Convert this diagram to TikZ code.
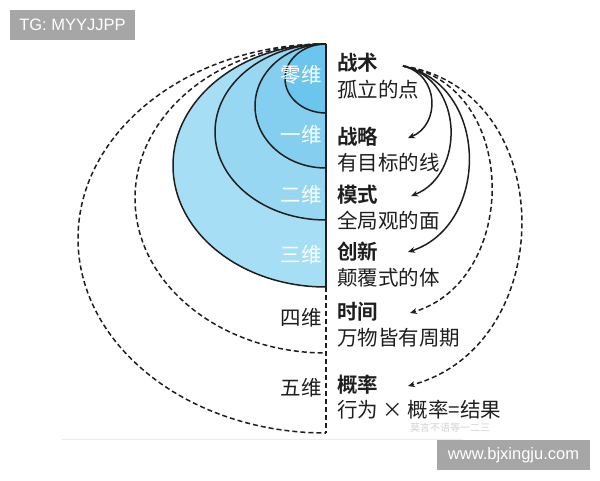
\documentclass[tikz,border=0pt]{standalone}
\usepackage{fontspec}
\setmainfont{Liberation Sans}
\newfontfamily\cjk{Noto Sans CJK SC}
\newfontfamily\cjkb{Noto Sans CJK SC Bold}
\usetikzlibrary{arrows.meta}
\definecolor{zeroc}{HTML}{6BC5EC}
\definecolor{onec}{HTML}{84CFEF}
\definecolor{twoc}{HTML}{97D7F2}
\definecolor{threec}{HTML}{A6DEF5}
\definecolor{inkc}{HTML}{1E1E1E}
\definecolor{wmgray}{HTML}{A6A6A6}
\tikzset{
  dimlab/.style={anchor=east,inner sep=0pt,text=white,font=\cjk\fontsize{20.5}{22}\selectfont},
  dimlabk/.style={anchor=east,inner sep=0pt,text=inkc,font=\cjk\fontsize{20.5}{22}\selectfont},
  ttl/.style={anchor=west,inner sep=0pt,text=inkc,font=\cjkb\fontsize{20.5}{22}\selectfont},
  sub/.style={anchor=west,inner sep=0pt,text=inkc,font=\cjk\fontsize{20.5}{22}\selectfont},
  solidring/.style={draw=inkc,line width=1.5pt},
  dashring/.style={draw=inkc,line width=1.5pt,dash pattern=on 5pt off 3pt},
  arr/.style={draw=inkc,line width=1.5pt,-{Stealth[length=7pt,width=6pt]}},
  darr/.style={arr,dash pattern=on 5pt off 3pt},
  wmbox/.style={fill=wmgray,text=white,inner sep=0pt,font=\fontsize{16.5}{18}\selectfont}
}
\begin{document}
\begin{tikzpicture}[x=1pt,y=-1pt]
\useasboundingbox (0,0) rectangle (600,480);
\fill[white] (0,0) rectangle (600,480);
% faint frame line
\draw[draw={rgb,255:red,236;green,236;blue,236},line width=1pt] (62,439) -- (463,439);
% fills
\fill[threec] (326,44) arc[start angle=-90,end angle=-270,x radius=153,y radius=121.5] -- cycle;
\fill[twoc] (326,44) arc[start angle=-90,end angle=-270,x radius=111,y radius=88] -- cycle;
\fill[onec] (326,44) arc[start angle=-90,end angle=-270,x radius=71,y radius=62] -- cycle;
\fill[zeroc] (326,44) arc[start angle=-90,end angle=-270,x radius=41,y radius=34.5] -- cycle;
% outlines
\draw[solidring] (326,44) arc[start angle=-90,end angle=-270,x radius=153,y radius=121.5];
\draw[solidring] (326,44) arc[start angle=-90,end angle=-270,x radius=111,y radius=88];
\draw[solidring] (326,44) arc[start angle=-90,end angle=-270,x radius=71,y radius=62];
\draw[solidring] (326,44) arc[start angle=-90,end angle=-270,x radius=41,y radius=34.5];
\draw[dashring] (326,44) arc[start angle=-90,end angle=-270,x radius=191,y radius=154.5];
\draw[dashring] (326,44) arc[start angle=-90,end angle=-270,x radius=248,y radius=194.5];
\coordinate (axtop) at (326,44);
\coordinate (axmid) at (326,287);
\coordinate (axbot) at (326,433);
\draw[solidring] (axtop) -- (axmid);
\draw[dashring] (axmid) -- (axbot);
% left labels
\node[dimlab] (d0) at (322,75) {零维};
\node[dimlab] (d1) at (322,135) {一维};
\node[dimlab] (d2) at (322,195) {二维};
\node[dimlab] (d3) at (322,255) {三维};
\node[dimlabk] (d4) at (322,318) {四维};
\node[dimlabk] (d5) at (322,388) {五维};
% right texts
\node[ttl] (t0) at (337,63) {战术};
\node[sub] (s0) at (337,90) {孤立的点};
\node[ttl] (t1) at (337,137) {战略};
\node[sub] (s1) at (337,163) {有目标的线};
\node[ttl] (t2) at (337,195) {模式};
\node[sub] (s2) at (337,221) {全局观的面};
\node[ttl] (t3) at (337,252) {创新};
\node[sub] (s3) at (337,278) {颠覆式的体};
\node[ttl] (t4) at (337,312) {时间};
\node[sub] (s4) at (337,338) {万物皆有周期};
\node[ttl] (t5) at (337,385) {概率};
\node[sub] (s5) at (337,410) {行为 × 概率=结果};
% arrows
\coordinate (src) at (403,66);
\coordinate (e1) at (408,138);
\coordinate (e2) at (411,196);
\coordinate (e3) at (408,252);
\coordinate (e4) at (410,313);
\coordinate (e5) at (408,386);
\draw[arr] (src) .. controls (440,75) and (440,125) .. (e1);
\draw[arr] (src) .. controls (465,80) and (465,175) .. (e2);
\draw[arr] (src) .. controls (490,85) and (490,225) .. (e3);
\draw[darr] (src) .. controls (520,85) and (520,280) .. (e4);
\draw[darr] (src) .. controls (560,90) and (560,345) .. (e5);
% watermarks
\node[text={rgb,255:red,210;green,210;blue,210},font=\cjk\fontsize{10}{11}\selectfont,anchor=west,inner sep=0pt] (wm) at (410,428) {莫言不语等一二三};
\node[wmbox,minimum width=125pt,minimum height=30pt] (tg) at (72.5,25) {TG: MYYJJPP};
\node[wmbox,minimum width=153pt,minimum height=30pt] (www) at (513.5,455) {www.bjxingju.com};
\end{tikzpicture}
\end{document}
